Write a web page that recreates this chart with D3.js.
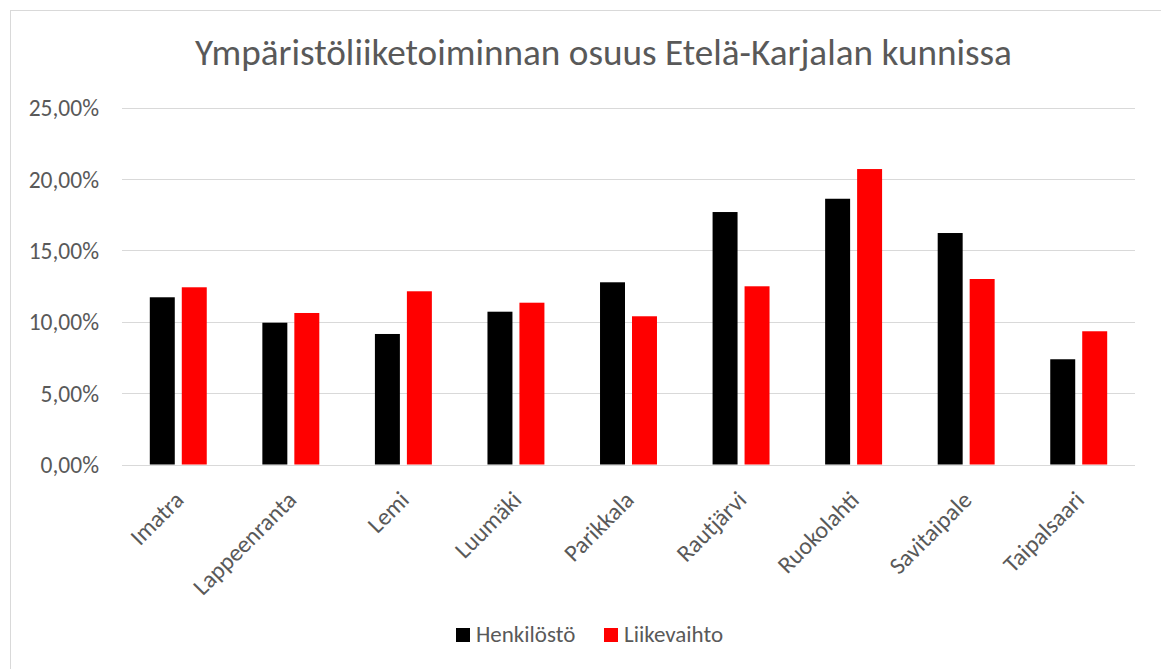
<!DOCTYPE html>
<html>
<head>
<meta charset="utf-8">
<script src="https://cdn.jsdelivr.net/npm/d3@7"></script>
<style>
  body { margin: 0; background: #fff; }
  svg { display: block; }
  svg text { font-family: Carlito, Calibri, Lato, sans-serif; }
</style>
</head>
<body>
<svg id="chart" width="1161" height="669"></svg>
<script>
const kunnat = ["Imatra", "Lappeenranta", "Lemi", "Luumäki", "Parikkala", "Rautjärvi", "Ruokolahti", "Savitaipale", "Taipalsaari"];
const henkilosto = [11.71, 9.93, 9.14, 10.70, 12.76, 17.68, 18.61, 16.21, 7.37];
const liikevaihto = [12.41, 10.61, 12.13, 11.33, 10.38, 12.48, 20.69, 12.99, 9.33];
const sarjat = ["Henkilöstö", "Liikevaihto"];
const yTicks = [0, 5, 10, 15, 20, 25];

const colors = { "Henkilöstö": "#000000", "Liikevaihto": "#ff0000" };
const data = kunnat.map((k, i) => ({ kunta: k, "Henkilöstö": henkilosto[i], "Liikevaihto": liikevaihto[i] }));

const svg = d3.select("#chart");
const width = 1161;
const height = 669;
const margin = { top: 107.5, right: 26, bottom: 204.5, left: 122 };

// chart border (only top/left visible in the frame)
svg.append("rect")
  .attr("x", 10.5).attr("y", 10.5)
  .attr("width", width + 20).attr("height", height + 20)
  .attr("fill", "#fff").attr("stroke", "#d9d9d9").attr("stroke-width", 1);

const x0 = d3.scaleBand()
  .domain(kunnat)
  .range([margin.left, width - margin.right])
  .paddingInner(0.494)
  .paddingOuter(0.247);

const x1 = d3.scaleBand()
  .domain(sarjat)
  .range([0, x0.bandwidth()])
  .paddingInner(0.219);

const y = d3.scaleLinear()
  .domain([0, 25])
  .range([height - margin.bottom, margin.top]);

// gridlines
svg.append("g")
  .attr("class", "grid")
  .selectAll("line")
  .data(yTicks)
  .join("line")
  .attr("x1", margin.left)
  .attr("x2", width - margin.right)
  .attr("y1", (d) => Math.round(y(d)) + 0.5)
  .attr("y2", (d) => Math.round(y(d)) + 0.5)
  .attr("stroke", "#d9d9d9")
  .attr("stroke-width", 1);

// y axis labels
const yAxis = (g) =>
  g
    .attr("transform", `translate(${margin.left - 23},0)`)
    .call(d3.axisLeft(y).tickValues(yTicks).tickSize(0).tickPadding(0)
      .tickFormat((d) => d3.format(".2f")(d).replace(".", ",") + "%"))
    .attr("font-family", null)
    .attr("font-size", 23.5)
    .call((g) => g.select(".domain").remove())
    .call((g) => g.selectAll("text")
      .attr("fill", "#595959")
      .attr("dy", "0.35em"));

svg.append("g").attr("class", "y-axis").call(yAxis);

// bars
svg.append("g")
  .attr("class", "plot-area")
  .selectAll("g")
  .data(data)
  .join("g")
  .attr("transform", (d) => `translate(${x0(d.kunta)},0)`)
  .selectAll("rect")
  .data((d) => sarjat.map((s) => ({ sarja: s, value: d[s] })))
  .join("rect")
  .attr("x", (d) => x1(d.sarja))
  .attr("width", x1.bandwidth())
  .attr("y", (d) => y(d.value))
  .attr("height", (d) => y(0) - y(d.value))
  .attr("fill", (d) => colors[d.sarja]);

// x axis labels, rotated
const xAxis = (g) =>
  g
    .attr("transform", `translate(0,${height - margin.bottom})`)
    .call(d3.axisBottom(x0).tickSize(0).tickPadding(0))
    .attr("font-family", null)
    .attr("font-size", 24)
    .call((g) => g.select(".domain").remove())
    .call((g) => g.selectAll("text")
      .attr("fill", "#595959")
      .attr("text-anchor", "end")
      .attr("dy", "0.35em")
      .attr("transform", "translate(1,31) rotate(-45)"));

svg.append("g").attr("class", "x-axis").call(xAxis);

// title
svg.append("text")
  .attr("x", 603.5)
  .attr("y", 65)
  .attr("text-anchor", "middle")
  .attr("fill", "#595959")
  .attr("font-size", 37.2)
  .text("Ympäristöliiketoiminnan osuus Etelä-Karjalan kunnissa");

// legend
const legend = svg.append("g").attr("class", "legend");
const legendX = [456, 604];
sarjat.forEach((s, i) => {
  legend.append("rect")
    .attr("x", legendX[i]).attr("y", 628)
    .attr("width", 14).attr("height", 14)
    .attr("fill", colors[s]);
  legend.append("text")
    .attr("x", legendX[i] + 20).attr("y", 642)
    .attr("fill", "#595959")
    .attr("font-size", 23)
    .text(s);
});
</script>
</body>
</html>
